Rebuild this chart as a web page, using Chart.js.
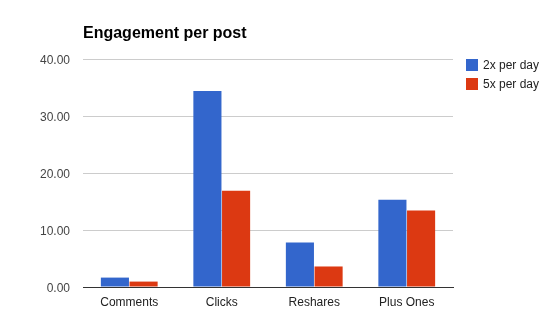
<!DOCTYPE html>
<html>
<head>
<meta charset="utf-8">
<script src="https://cdn.jsdelivr.net/npm/chart.js@4"></script>
<style>
  html,body{margin:0;padding:0;background:#fff}
  #wrap{position:relative;width:557px;height:332px}
</style>
</head>
<body>
<div id="wrap"><canvas id="c" width="557" height="332"></canvas></div>
<script>
// chart data
const categories=['Comments','Clicks','Reshares','Plus Ones'];
const seriesNames=['2x per day','5x per day'];
const twoPerDay=[1.65,34.4,7.8,15.3];
const fivePerDay=[0.95,16.9,3.6,13.4];
const yTicks=[0,10,20,30,40];
const colors=['#3366cc','#dc3912'];

const FONT="Arial, 'Liberation Sans', sans-serif";

// title + legend drawn next to the plot area
const decor={id:'decor',afterDraw(chart){
  const {ctx,chartArea:{left}}=chart;
  ctx.save();
  ctx.fillStyle='#000';ctx.font='bold 16px '+FONT;
  ctx.textBaseline='alphabetic';ctx.textAlign='left';
  ctx.fillText('Engagement per post',left,38);
  ctx.font='12px '+FONT;ctx.textBaseline='middle';
  chart.data.datasets.forEach((ds,i)=>{
    const y=59+i*19;
    ctx.fillStyle=ds.backgroundColor;ctx.fillRect(466,y,12,12);
    ctx.fillStyle='#222';ctx.fillText(ds.label,483,y+6.5);
  });
  ctx.restore();
}};

new Chart(document.getElementById('c'),{
  type:'bar',
  data:{labels:categories,datasets:[
    {label:seriesNames[0],data:twoPerDay,backgroundColor:colors[0]},
    {label:seriesNames[1],data:fivePerDay,backgroundColor:colors[1]}
  ]},
  options:{
    responsive:false,animation:false,devicePixelRatio:1,
    layout:{padding:{left:0,top:59,right:104,bottom:0}},
    plugins:{legend:{display:false},tooltip:{enabled:false},title:{display:false}},
    datasets:{bar:{categoryPercentage:0.62,barPercentage:0.98,borderWidth:0}},
    scales:{
      x:{
        grid:{display:false},
        border:{display:true,color:'#333',width:1},
        ticks:{color:'#222',font:{size:12,family:FONT},padding:0},
        afterFit(s){s.height=45;}
      },
      y:{
        min:0,max:40,
        afterBuildTicks(s){s.ticks=yTicks.map(v=>({value:v}));},
        grid:{color:'#cccccc',drawTicks:false},
        border:{display:false},
        ticks:{color:'#444',font:{size:12,family:FONT},padding:13,labelOffset:2,callback:v=>v.toFixed(2)},
        afterFit(s){s.width=83;}
      }
    }
  },
  plugins:[decor]
});
</script>
</body>
</html>
